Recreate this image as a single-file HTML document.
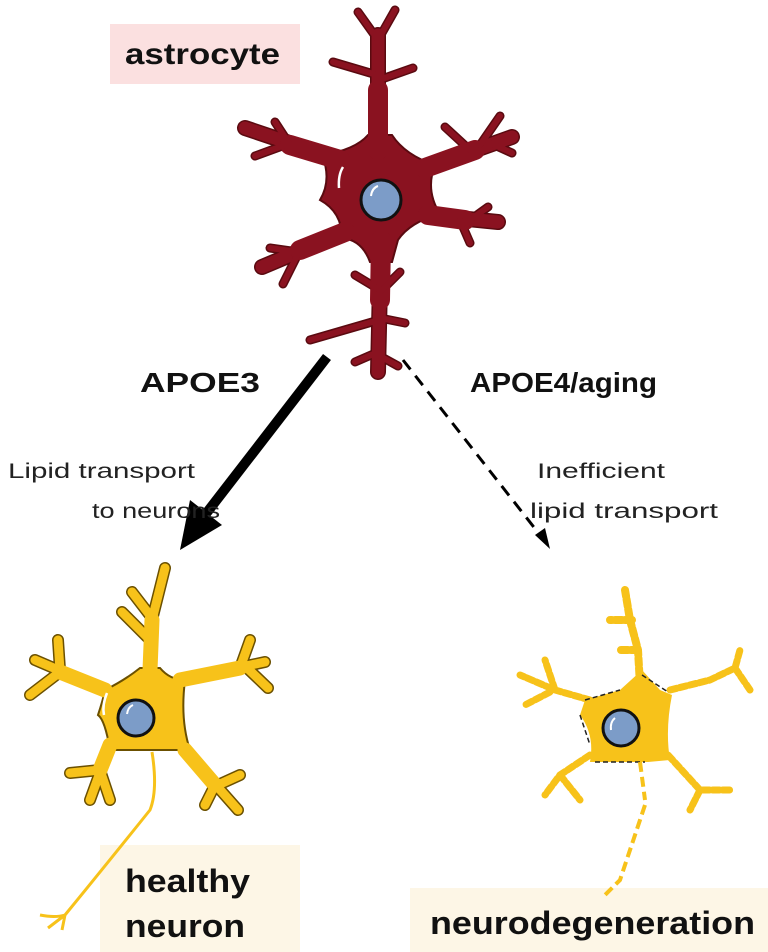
<!DOCTYPE html>
<html><head><style>
body{margin:0;background:#fff;}
svg{display:block;font-family:"Liberation Sans",sans-serif;}
</style></head><body>
<svg width="768" height="952" viewBox="0 0 768 952" xmlns="http://www.w3.org/2000/svg">
<rect width="768" height="952" fill="#fff"/>
<rect x="110" y="24" width="190" height="60" fill="#fbe0e0"/>
<text x="125" y="64" font-size="30" font-weight="bold" fill="#111" textLength="155" lengthAdjust="spacingAndGlyphs">astrocyte</text>
<rect x="100" y="845" width="200" height="107" fill="#fdf6e6"/>
<rect x="410" y="888" width="358" height="64" fill="#fdf6e6"/>

<!-- Astrocyte -->
<g stroke="#5a0a10" stroke-linecap="round" stroke-linejoin="round" fill="none">
 <g stroke-width="16">
  <path d="M378 150 L378 35 M340 160 L245 128 M425 168 L512 137 M428 215 L498 222 M345 232 L262 267 M381 240 L378 372"/>
 </g>
 <g stroke-width="9">
  <path d="M378 40 L358 12 M378 40 L395 10 M377 75 L333 62 M379 80 L413 68 M290 145 L275 122 M285 145 L255 156 M470 150 L445 127 M480 145 L500 116 M490 143 L512 153 M460 220 L470 243 M470 220 L488 207 M300 250 L283 284 M298 252 L270 248 M380 290 L355 275 M380 292 L400 272 M379 320 L310 340 M380 318 L405 323 M378 352 L355 362 M378 355 L398 366"/>
 </g>
</g>
<path d="M322 155 Q355 150 368 135 L392 135 Q405 155 435 165 Q425 190 440 214 Q410 222 398 240 L392 262 L370 262 Q362 240 342 238 Q342 212 320 200 Q332 180 322 155 Z" fill="#8a1220" stroke="#5a0a10" stroke-width="2"/>
<g stroke="#8a1220" stroke-linecap="round" fill="none">
 <path d="M378 150 L378 35 M340 160 L245 128 M425 168 L512 137 M428 215 L498 222 M345 232 L262 267 M381 240 L378 372" stroke-width="13"/>
 <path d="M378 150 L378 90 M340 160 L290 145 M425 168 L475 150 M428 215 L465 220 M345 232 L300 250 M381 240 L380 300" stroke-width="20"/>
 <path d="M378 40 L358 12 M378 40 L395 10 M377 75 L333 62 M379 80 L413 68 M290 145 L275 122 M285 145 L255 156 M470 150 L445 127 M480 145 L500 116 M490 143 L512 153 M460 220 L470 243 M470 220 L488 207 M300 250 L283 284 M298 252 L270 248 M380 290 L355 275 M380 292 L400 272 M379 320 L310 340 M380 318 L405 323 M378 352 L355 362 M378 355 L398 366" stroke-width="6"/>
</g>
<path d="M343 167 Q338 175 339 188" stroke="#fff" stroke-width="2.5" fill="none"/>
<circle cx="381" cy="200" r="20" fill="#7c9cc8" stroke="#111" stroke-width="3"/>
<path d="M371 196 Q372 188 378 186" stroke="#fff" stroke-width="2" fill="none"/>

<!-- arrows -->
<line x1="327" y1="357" x2="205" y2="515" stroke="#000" stroke-width="10"/>
<polygon points="180,550 190,500 222,525" fill="#000"/>
<line x1="403" y1="360" x2="540" y2="535" stroke="#000" stroke-width="3" stroke-dasharray="12,8"/>
<polygon points="550,549 535,535 545,528" fill="#000"/>

<text x="140" y="392" font-size="28" font-weight="bold" fill="#111" textLength="120" lengthAdjust="spacingAndGlyphs">APOE3</text>
<text x="470" y="392" font-size="28" font-weight="bold" fill="#111" textLength="187" lengthAdjust="spacingAndGlyphs">APOE4/aging</text>
<text x="8" y="478" font-size="21" fill="#222" textLength="187" lengthAdjust="spacingAndGlyphs">Lipid transport</text>
<text x="92" y="518" font-size="21" fill="#222" textLength="128" lengthAdjust="spacingAndGlyphs">to neurons</text>
<text x="537" y="478" font-size="21" fill="#222" textLength="128" lengthAdjust="spacingAndGlyphs">Inefficient</text>
<text x="530" y="518" font-size="21" fill="#222" textLength="188" lengthAdjust="spacingAndGlyphs">lipid transport</text>

<!-- healthy neuron -->
<g stroke="#6b5000" stroke-width="12" stroke-linecap="round" fill="none">
 <path d="M150 670 L152 620 L165 568 M152 618 L132 592 M150 640 L122 612 M105 690 L35 660 M60 670 L58 640 M60 672 L30 695 M180 680 L265 662 M240 668 L250 640 M245 666 L268 688 M110 745 L90 800 M100 770 L70 773 M100 770 L110 800 M185 750 L238 810 M215 785 L205 805 M218 785 L240 775"/>
</g>
<path d="M105 690 Q125 680 140 668 L160 668 Q170 680 185 680 Q180 720 190 750 L110 750 Q105 720 98 715 Q103 700 105 690 Z" fill="#f7c21a" stroke="#6b5000" stroke-width="2"/>
<g stroke="#f7c21a" stroke-width="9" stroke-linecap="round" fill="none">
 <path d="M150 670 L152 620 L165 568 M152 618 L132 592 M150 640 L122 612 M105 690 L35 660 M60 670 L58 640 M60 672 L30 695 M180 680 L265 662 M240 668 L250 640 M245 666 L268 688 M110 745 L90 800 M100 770 L70 773 M100 770 L110 800 M185 750 L238 810 M215 785 L205 805 M218 785 L240 775"/>
 <path d="M150 670 L152 620 M105 690 L60 672 M180 680 L240 668 M110 745 L100 770 M185 750 L215 785" stroke-width="15"/>
</g>
<path d="M152 752 Q158 790 150 810 Q110 860 65 915 Q55 918 40 915 M65 915 L62 930 M65 915 L48 928" stroke="#f7c21a" stroke-width="3" fill="none"/>
<path d="M107 693 Q102 705 104 715" stroke="#fff" stroke-width="2.5" fill="none"/>
<circle cx="136" cy="718" r="18" fill="#7c9cc8" stroke="#111" stroke-width="3"/>
<path d="M127 714 Q128 707 133 705" stroke="#fff" stroke-width="2" fill="none"/>
<text x="125" y="892" font-size="32" font-weight="bold" fill="#111" textLength="125" lengthAdjust="spacingAndGlyphs">healthy</text>
<text x="125" y="937" font-size="32" font-weight="bold" fill="#111" textLength="120" lengthAdjust="spacingAndGlyphs">neuron</text>

<!-- degenerating neuron -->
<g stroke="#f7c21a" stroke-linecap="round" stroke-dasharray="7,3" fill="none">
 <path d="M640 685 L638 650 L630 620 L625 590 M632 620 L610 620 M638 650 L620 650" stroke-width="8"/>
 <path d="M590 700 L555 690 L520 675 M555 690 L545 660 M550 692 L525 705" stroke-width="7"/>
 <path d="M670 690 L710 680 L735 668 L740 650 M735 668 L750 690" stroke-width="7"/>
 <path d="M590 755 L560 775 L545 795 M560 775 L580 800" stroke-width="7"/>
 <path d="M668 755 L700 790 L730 790 M700 790 L690 810" stroke-width="7"/>
</g>
<path d="M585 700 L620 690 L642 670 L660 690 L672 695 Q665 730 670 760 L648 762 L590 762 Q595 735 580 715 Z" fill="#f7c21a"/>
<path d="M585 700 L620 690 M642 675 L668 692 M580 715 L590 745 M595 762 L645 762" stroke="#222" stroke-width="1.5" stroke-dasharray="5,3" fill="none"/>
<path d="M640 762 L645 800 M645 805 L620 880 L605 895" stroke="#f7c21a" stroke-width="4" stroke-dasharray="10,5" fill="none"/>
<circle cx="621" cy="728" r="18" fill="#7c9cc8" stroke="#111" stroke-width="3"/>
<path d="M611 730 Q610 722 615 718" stroke="#fff" stroke-width="2" fill="none"/>
<text x="430" y="934" font-size="32" font-weight="bold" fill="#111" textLength="325" lengthAdjust="spacingAndGlyphs">neurodegeneration</text>
</svg>
</body></html>
